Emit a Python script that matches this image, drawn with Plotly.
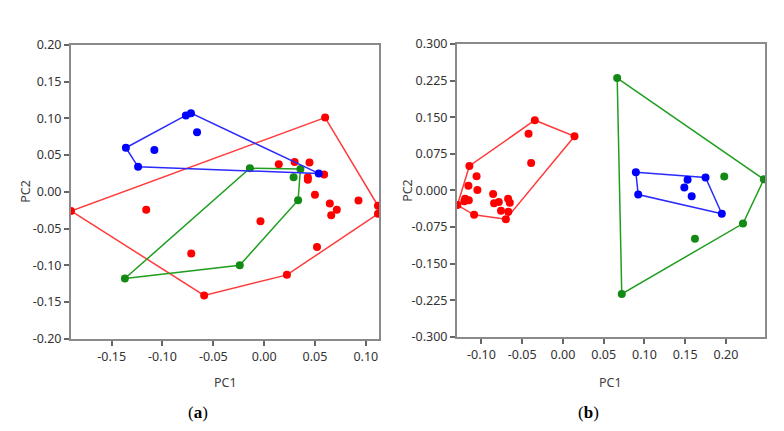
import plotly.graph_objects as go

# ---------------- data: panel (a) ----------------
a_red_x = [-0.190, 0.060, 0.112, 0.112, -0.116, 0.0144, 0.030, 0.0446, 0.043, 0.043, 0.059,
           0.050, 0.0646, 0.0715, 0.066, 0.0928, -0.0036, -0.0717, -0.059, 0.0224, 0.052]
a_red_y = [-0.026, 0.101, -0.019, -0.030, -0.0245, 0.0375, 0.0405, 0.040, 0.020, 0.0166, 0.0235,
           -0.004, -0.016, -0.0244, -0.032, -0.0118, -0.040, -0.084, -0.141, -0.113, -0.075]
a_blue_x = [-0.136, -0.124, -0.108, -0.077, -0.072, -0.066, 0.0537]
a_blue_y = [0.060, 0.034, 0.057, 0.104, 0.107, 0.081, 0.025]
a_green_x = [-0.014, 0.0357, 0.029, 0.0334, -0.137, -0.024]
a_green_y = [0.032, 0.031, 0.020, -0.0114, -0.118, -0.100]

# ---------------- data: panel (b) ----------------
b_red_x = [-0.0345, 0.0142, -0.0422, -0.039, -0.1148, -0.106, -0.105, -0.116, -0.120, -0.1155, -0.121,
           -0.1295, -0.109, -0.0857, -0.0845, -0.0787, -0.076, -0.0673, -0.0652, -0.067, -0.070]
b_red_y = [0.1437, 0.1108, 0.116, 0.056, 0.050, 0.029, 0.001, 0.0095, -0.017, -0.020, -0.022,
           -0.030, -0.050, -0.0075, -0.0266, -0.024, -0.0417, -0.0173, -0.0252, -0.0437, -0.059]
b_blue_x = [0.0895, 0.0924, 0.175, 0.153, 0.149, 0.158, 0.195]
b_blue_y = [0.037, -0.0086, 0.0266, 0.022, 0.006, -0.012, -0.048]
b_green_x = [0.0666, 0.2466, 0.198, 0.221, 0.162, 0.0722]
b_green_y = [0.230, 0.0226, 0.0285, -0.068, -0.099, -0.212]

# ---------------- axis ticks ----------------
a_xticks = [-0.15, -0.10, -0.05, 0.00, 0.05, 0.10]
a_yticks = [0.20, 0.15, 0.10, 0.05, 0.00, -0.05, -0.10, -0.15, -0.20]
b_xticks = [-0.10, -0.05, 0.00, 0.05, 0.10, 0.15, 0.20]
b_yticks = [0.300, 0.225, 0.150, 0.075, 0.000, -0.075, -0.150, -0.225, -0.300]
a_xtext = ["-0.15", "-0.10", "-0.05", "0.00", "0.05", "0.10"]
a_ytext = ["0.20", "0.15", "0.10", "0.05", "0.00", "-0.05", "-0.10", "-0.15", "-0.20"]
b_xtext = ["-0.10", "-0.05", "0.00", "0.05", "0.10", "0.15", "0.20"]
b_ytext = ["0.300", "0.225", "0.150", "0.075", "0.000", "-0.075", "-0.150", "-0.225", "-0.300"]

RED_PT, RED_LN = "#ff0000", "#ff3b3b"
BLUE_PT, BLUE_LN = "#0000ff", "#2b2bff"
GREEN_PT, GREEN_LN = "#138a13", "#1f9e1f"


def hull(xs, ys):
    pts = sorted(set(zip(xs, ys)))
    if len(pts) < 3:
        return pts

    def cross(o, a, b):
        return (a[0] - o[0]) * (b[1] - o[1]) - (a[1] - o[1]) * (b[0] - o[0])
    lower, upper = [], []
    for p in pts:
        while len(lower) >= 2 and cross(lower[-2], lower[-1], p) <= 0:
            lower.pop()
        lower.append(p)
    for p in reversed(pts):
        while len(upper) >= 2 and cross(upper[-2], upper[-1], p) <= 0:
            upper.pop()
        upper.append(p)
    h = lower[:-1] + upper[:-1]
    return h + [h[0]]


fig = go.Figure()


def add_group(xs, ys, pc, lc, xa, ya):
    h = hull(xs, ys)
    fig.add_trace(go.Scatter(x=[p[0] for p in h], y=[p[1] for p in h], mode="lines",
                             line=dict(color=lc, width=1.5), xaxis=xa, yaxis=ya,
                             showlegend=False, hoverinfo="skip"))
    fig.add_trace(go.Scatter(x=xs, y=ys, mode="markers",
                             marker=dict(color=pc, size=8), xaxis=xa, yaxis=ya,
                             showlegend=False))


add_group(a_red_x, a_red_y, RED_PT, RED_LN, "x", "y")
add_group(a_green_x, a_green_y, GREEN_PT, GREEN_LN, "x", "y")
add_group(a_blue_x, a_blue_y, BLUE_PT, BLUE_LN, "x", "y")
add_group(b_red_x, b_red_y, RED_PT, RED_LN, "x2", "y2")
add_group(b_green_x, b_green_y, GREEN_PT, GREEN_LN, "x2", "y2")
add_group(b_blue_x, b_blue_y, BLUE_PT, BLUE_LN, "x2", "y2")

tickfont = dict(family="Noto Sans", size=12.5, color="#333333")
axcommon = dict(showgrid=False, zeroline=False, showline=True, mirror=True,
                linecolor="#8a8a8a", linewidth=2, ticks="outside", ticklen=5,
                tickcolor="#666666", tickwidth=1.5, tickfont=tickfont)

fig.update_layout(
    width=784, height=431,
    margin=dict(l=0, r=0, t=0, b=0),
    paper_bgcolor="white", plot_bgcolor="white",
    xaxis=dict(domain=[63 / 784, 371 / 784], range=[-0.190, 0.113],
               tickvals=a_xticks, ticktext=a_xtext, anchor="y", **axcommon),
    yaxis=dict(domain=[1 - 335 / 431, 1 - 29 / 431], range=[-0.20, 0.20],
               tickvals=a_yticks, ticktext=a_ytext, anchor="x", **axcommon),
    xaxis2=dict(domain=[449 / 784, 757 / 784], range=[-0.130, 0.248],
                tickvals=b_xticks, ticktext=b_xtext, anchor="y2", **axcommon),
    yaxis2=dict(domain=[1 - 333 / 431, 1 - 28 / 431], range=[-0.30, 0.30],
                tickvals=b_yticks, ticktext=b_ytext, anchor="x2", **axcommon),
)

labfont = dict(family="Noto Sans", size=12.5, color="#404040")
ann = [
    dict(text="PC1", x=217 / 784, y=1 - 381 / 431),
    dict(text="PC1", x=602 / 784, y=1 - 381 / 431),
    dict(text="PC2", x=18 / 784, y=1 - 182 / 431, textangle=-90),
    dict(text="PC2", x=400 / 784, y=1 - 181 / 431, textangle=-90),
]
for a in ann:
    fig.add_annotation(xref="paper", yref="paper", showarrow=False,
                       xanchor="center", yanchor="middle", font=labfont, **a)

capfont = dict(family="Liberation Serif", size=17, color="#000000")
fig.add_annotation(text="(<b>a</b>)", x=190 / 784, y=1 - 412 / 431, xref="paper", yref="paper",
                   showarrow=False, xanchor="center", yanchor="middle", font=capfont)
fig.add_annotation(text="(<b>b</b>)", x=580 / 784, y=1 - 412 / 431, xref="paper", yref="paper",
                   showarrow=False, xanchor="center", yanchor="middle", font=capfont)

fig.write_html("out.html")
